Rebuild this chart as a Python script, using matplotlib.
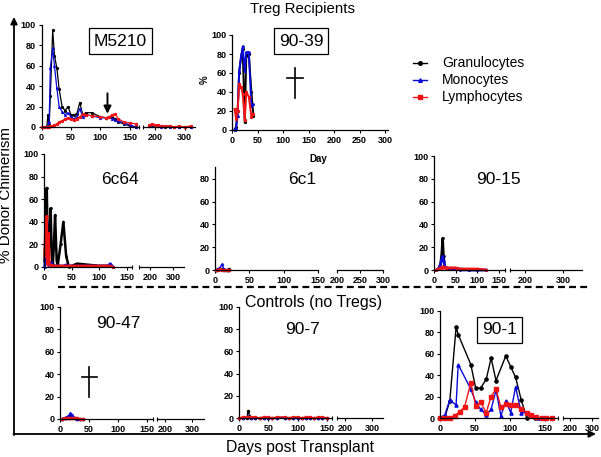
import matplotlib
matplotlib.use("Agg")
import matplotlib.pyplot as plt

plt.rcParams['font.family'] = ['Liberation Sans', 'DejaVu Sans']

# ---------------- data ----------------
series_names = ["Granulocytes", "Monocytes", "Lymphocytes"]
series_colors = ["#000000", "#0a0ad8", "#f01414"]
series_markers = ["o", "^", "s"]

# M5210
m5210_days = [0, 5, 9, 11, 13, 15, 19, 22, 26, 30, 35, 40, 45, 50, 55, 60, 65, 70, 75, 85,
              100, 110, 115, 120, 125, 130, 140, 150, 160]
m5210_g = [0, 0, 0, 12, 2, 30, 95, 70, 58, 37, 20, 16, 20, 12, 12, 13, 24, 12, 14, 14,
           10, 9, 10, 10, 8, 5, 3, 1, 0]
m5210_m = [0, 0, 0, 2, 5, 58, 77, 60, 38, 20, 15, 12, 14, 10, 8, 10, 18, 10, 12, 11,
           9, 9, 10, 8, 7, 6, 4, 2, 0]
m5210_l = [0, 0, 0, 0, 0, 1, 1, 2, 3, 5, 6, 8, 9, 8, 7, 8, 10, 13, 12, 11,
           10, 9, 10, 12, 13, 8, 5, 4, 3]
m5210_days2 = [180, 190, 200, 210, 220, 235, 250, 265, 280, 300, 320]
m5210_g2 = [1, 2, 1, 1, 1, 0, 1, 0, 0, 0, 0]
m5210_m2 = [1, 1, 1, 1, 0, 1, 0, 0, 0, 0, 0]
m5210_l2 = [2, 3, 2, 2, 1, 1, 1, 0, 1, 0, 1]
m5210_arrow_day = 112
m5210_arrow_from = 33
m5210_arrow_to = 13

# 90-39
p9039_days = [5, 8, 11, 14, 18, 21, 25, 28, 33, 38, 42]
p9039_g = [1, 3, 20, 60, 78, 85, 8, 78, 80, 40, 15]
p9039_m = [0, 2, 15, 62, 78, 88, 62, 82, 82, 25, 27]
p9039_l = [22, 12, 20, 48, 45, 38, 10, 40, 35, 14, 17]

# 6c64
p6c64_days = [1, 3, 5, 6, 8, 10, 12, 14, 16, 18, 20, 23, 25, 30, 35, 40, 45, 60, 80, 100, 115, 120, 125]
p6c64_g = [5, 30, 70, 40, 5, 30, 52, 10, 3, 20, 46, 5, 2, 20, 40, 10, 0, 3, 2, 1, 1, 1, 0]
p6c64_m = [0, 10, 40, 20, 2, 3, 4, 3, 2, 1, 1, 1, 1, 1, 1, 2, 1, 1, 1, 1, 1, 3, 0]
p6c64_l = [10, 40, 45, 3, 30, 2, 1, 2, 1, 1, 1, 1, 1, 1, 1, 1, 1, 1, 1, 1, 1, 1, 0]

# 6c1
p6c1_days = [1, 4, 7, 10, 13, 17, 20]
p6c1_g = [0, 1, 1, 1, 0, 0, 1]
p6c1_m = [0, 1, 2, 5, 1, 0, 0]
p6c1_l = [0, 0, 1, 0, 0, 0, 0]

# 90-15
p9015_days = [5, 10, 15, 18, 20, 22, 25, 30, 40, 50, 60, 80, 100, 120]
p9015_g = [0, 1, 5, 15, 28, 12, 3, 1, 1, 1, 1, 0, 0, 0]
p9015_m = [0, 1, 5, 10, 12, 8, 3, 2, 1, 1, 0, 0, 0, 0]
p9015_l = [0, 1, 2, 2, 3, 3, 2, 2, 2, 2, 1, 1, 1, 0]

# 90-47
p9047_days = [3, 8, 12, 15, 18, 21, 25, 30, 35, 40]
p9047_g = [0, 1, 1, 2, 3, 2, 1, 0, 0, 0]
p9047_m = [0, 1, 2, 3, 5, 4, 1, 0, 0, 0]
p9047_l = [0, 1, 1, 1, 1, 1, 1, 1, 0, 0]

# 90-7
p907_days = [0, 7, 14, 15, 21, 28, 35, 42, 50, 57, 64, 78, 85, 92, 100, 107, 114, 121, 128, 135, 142, 150]
p907_g = [0, 0, 0, 6, 0, 0, 0, 0, 0, 0, 0, 0, 0, 0, 0, 0, 0, 0, 0, 0, 0, 0]
p907_m = [0, 0, 1, 2, 0, 0, 0, 0, 0, 0, 0, 0, 0, 0, 0, 0, 0, 0, 0, 0, 0, 0]
p907_l = [0, 1, 1, 1, 1, 1, 0, 1, 1, 0, 1, 1, 0, 1, 1, 0, 1, 1, 0, 1, 1, 0]

# 90-1
p901_days_g = [0, 7, 14, 23, 26, 44, 51, 58, 66, 73, 80, 94, 101, 108, 116, 124, 135, 145, 160]
p901_g = [0, 1, 16, 85, 78, 50, 28, 28, 36, 56, 35, 58, 48, 38, 17, 0, 0, 0, 0]
p901_days_m = [0, 7, 14, 23, 26, 44, 51, 58, 66, 73, 80, 87, 94, 101, 108, 116, 124, 130, 140]
p901_m = [0, 3, 17, 12, 50, 27, 15, 8, 3, 8, 26, 2, 16, 5, 29, 5, 5, 2, 0]
p901_days_l = [0, 7, 14, 21, 28, 35, 44, 51, 58, 66, 73, 80, 87, 94, 101, 108, 116, 124, 130,
               137, 145, 152, 160]
p901_l = [0, 0, 0, 2, 6, 10, 33, 11, 15, 5, 20, 27, 10, 13, 12, 12, 8, 5, 3, 1, 0, 0, 0]

# ---------------- layout ----------------
W, H = 601, 457
fig = plt.figure(figsize=(W / 100, H / 100), dpi=100)

ov = fig.add_axes([0, 0, 1, 1])
ov.set_xlim(0, W)
ov.set_ylim(H, 0)
ov.axis('off')
ov.patch.set_visible(False)

TICKFS = 6.5


def px_axes(x0, x1, ytop, ybot):
    return fig.add_axes([x0 / W, 1 - ybot / H, (x1 - x0) / W, (ybot - ytop) / H])


def style_ticks(ax):
    ax.tick_params(axis='both', which='major', length=2.5, width=0.8, pad=1.5,
                   labelsize=TICKFS, direction='out')
    for lab in ax.get_xticklabels() + ax.get_yticklabels():
        lab.set_fontweight('bold')
    ax.patch.set_visible(False)


def plot_xy(ax, days_list, vals_list, lw=1.0, ms=1.5):
    for days, vals, c, m in zip(days_list, vals_list, series_colors, series_markers):
        ax.plot(days, vals, color=c, marker=m, ms=ms, lw=lw, clip_on=False)


def plot_series(ax, days, vals_list, lw=1.0, ms=1.5):
    plot_xy(ax, [days] * 3, vals_list, lw=lw, ms=ms)


def panel(x0, sx, xmax, y0, sy, ymax, xticks, yticks, sec=None):
    ax = px_axes(x0, x0 + sx * xmax, y0 - sy * ymax, y0)
    ax.set_xlim(0, xmax)
    ax.set_ylim(0, ymax)
    ax.set_xticks(xticks)
    ax.set_yticks(yticks)
    for s in ['top', 'right']:
        ax.spines[s].set_visible(False)
    for s in ['left', 'bottom']:
        ax.spines[s].set_linewidth(0.9)
    style_ticks(ax)
    ax2 = None
    if sec is not None:
        xs0, xs1, lo, hi, ticks = sec
        ax.set_xticks([xmax], minor=True)
        ax.tick_params(axis='x', which='minor', length=3.5, width=0.8, direction='inout')
        ax2 = px_axes(xs0, xs1, y0 - sy * ymax, y0)
        ax2.set_xlim(lo, hi)
        ax2.set_ylim(0, ymax)
        ax2.set_xticks(ticks)
        ax2.set_xticks([lo], minor=True)
        ax2.tick_params(axis='x', which='minor', length=3.5, width=0.8, direction='inout')
        ax2.set_yticks([])
        for s in ['top', 'right', 'left']:
            ax2.spines[s].set_visible(False)
        ax2.spines['bottom'].set_linewidth(0.9)
        style_ticks(ax2)
    return ax, ax2


Y100 = [0, 20, 40, 60, 80, 100]

# M5210
a, a2 = panel(41.5, 0.589, 165, 127, 1.02, 100, [0, 50, 100, 150], Y100,
              sec=(143, 195, 160, 335, [200, 300]))
plot_series(a, m5210_days, [m5210_g, m5210_m, m5210_l], lw=0.9, ms=1.3)
plot_series(a2, m5210_days2, [m5210_g2, m5210_m2, m5210_l2], lw=0.9, ms=1.3)
a.annotate("", xy=(m5210_arrow_day, m5210_arrow_to), xytext=(m5210_arrow_day, m5210_arrow_from),
           arrowprops=dict(arrowstyle="-|>", color="black", lw=1.4, mutation_scale=11,
                           shrinkA=0, shrinkB=0))

# 90-39
a, _ = panel(232, 0.51, 305, 130, 0.95, 100, [0, 50, 100, 150, 200, 250, 300], Y100)
plot_series(a, p9039_days, [p9039_g, p9039_m, p9039_l], lw=1.4, ms=1.3)

# 6c64
a, _ = panel(44, 0.553, 160, 267, 1.13, 100, [0, 50, 100, 150], Y100,
             sec=(139, 184, 152, 348, [200, 300]))
plot_series(a, p6c64_days, [p6c64_g, p6c64_m, p6c64_l], lw=1.8, ms=1.0)

# 6c1
a, _ = panel(215, 0.687, 150, 270, 1.14, 90, [0, 50, 100, 150], [0, 20, 40, 60, 80],
             sec=(337, 383, 200, 300, [200, 250, 300]))
plot_series(a, p6c1_days, [p6c1_g, p6c1_m, p6c1_l], lw=1.0, ms=1.5)

# 90-15
a, _ = panel(434, 0.433, 163, 270, 1.14, 100, [0, 50, 100, 150], Y100,
             sec=(510, 582, 160, 350, [200, 300]))
plot_series(a, p9015_days, [p9015_g, p9015_m, p9015_l], lw=1.8, ms=1.0)

# 90-47
a, _ = panel(60, 0.58, 160, 419, 1.12, 100, [0, 50, 100, 150], Y100,
             sec=(157, 204, 170, 344, [200, 300]))
plot_series(a, p9047_days, [p9047_g, p9047_m, p9047_l], lw=1.2, ms=1.5)

# 90-7
a, _ = panel(239, 0.587, 158, 418, 1.11, 100, [0, 50, 100, 150], Y100,
             sec=(337, 383, 170, 341, [200, 300]))
plot_series(a, p907_days, [p907_g, p907_m, p907_l], lw=1.0, ms=1.5)

# 90-1
a, _ = panel(440, 0.70, 169, 418, 1.07, 100, [0, 50, 100, 150], Y100,
             sec=(563, 598, 168, 327, [200, 300]))
plot_xy(a, [p901_days_g, p901_days_m, p901_days_l], [p901_g, p901_m, p901_l], lw=1.0, ms=2.3)

# ---------------- decorations (overlay, pixel coords) ----------------
box = dict(boxstyle="square,pad=0.3", fc="white", ec="black", lw=0.9)
ov.text(120.5, 41, "M5210", fontsize=12.5, ha='center', va='center', bbox=box)
ov.text(301, 41, "90-39", fontsize=12.5, ha='center', va='center', bbox=box)
ov.text(499.5, 330, "90-1", fontsize=12.5, ha='center', va='center', bbox=box)
ov.text(120, 180, "6c64", fontsize=12.5, ha='center', va='center')
ov.text(302, 180, "6c1", fontsize=12.5, ha='center', va='center')
ov.text(498, 180, "90-15", fontsize=12.5, ha='center', va='center')
ov.text(118, 324, "90-47", fontsize=12.5, ha='center', va='center')
ov.text(302, 329, "90-7", fontsize=12.5, ha='center', va='center')

ov.text(303, 12.5, "Treg Recipients", fontsize=10.8, ha='center', va='baseline')
ov.text(314, 307, "Controls (no Tregs)", fontsize=11.5, ha='center', va='baseline')
ov.text(300, 452, "Days post Transplant", fontsize=11.3, ha='center', va='baseline')
ov.text(6, 195, "% Donor Chimerism", fontsize=11, ha='center', va='center', rotation=90)
ov.text(318, 159, "Day", fontsize=7, fontweight='bold', ha='center', va='center')
ov.text(205, 80, "%", fontsize=7, fontweight='bold', ha='center', va='center', rotation=90)

# daggers
ov.plot([295, 295], [68, 98], color='black', lw=1.2)
ov.plot([287, 303], [78, 78], color='black', lw=1.2)
ov.plot([89, 89], [367, 397], color='black', lw=1.2)
ov.plot([82, 97], [377, 377], color='black', lw=1.2)

# dashed separator
ov.plot([58, 588], [287, 287], color='black', lw=1.6, dashes=(3.1, 1.9))

# outer frame arrows
ov.annotate("", xy=(14, 17), xytext=(14, 435),
            arrowprops=dict(arrowstyle="-|>", color="black", lw=1.3, mutation_scale=10,
                            shrinkA=0, shrinkB=0))
ov.annotate("", xy=(596, 434), xytext=(13.4, 434),
            arrowprops=dict(arrowstyle="-|>", color="black", lw=1.3, mutation_scale=10,
                            shrinkA=0, shrinkB=0))

# legend
for i, (name, c, m) in enumerate(zip(series_names, series_colors, series_markers)):
    yy = 63 + 17 * i
    ov.plot([413, 427], [yy, yy], color=c, lw=1.0)
    ov.plot([420], [yy], color=c, marker=m, ms=2.6, lw=0)
    ov.text(442, yy, name, fontsize=10, ha='left', va='center')

fig.savefig("out.png", dpi=100)
